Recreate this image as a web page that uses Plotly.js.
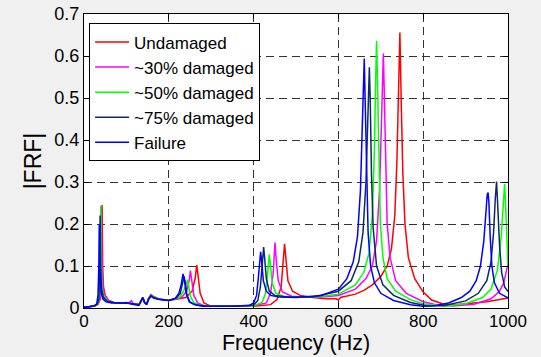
<!DOCTYPE html>
<html>
<head>
<meta charset="utf-8">
<script src="https://cdn.plot.ly/plotly-3.0.1.min.js"></script>
<style>html,body{margin:0;padding:0;background:#f0f0f0;}#chart{width:541px;height:357px;}</style>
</head>
<body>
<div id="chart"></div>
<script>
// Series names
const seriesNames = ["Undamaged", "~30% damaged", "~50% damaged", "~75% damaged", "Failure"];
const seriesColors = ["#ff0000", "#ff00ff", "#00ff00", "#0a2a6a", "#0000ff"];

// Undamaged (red)
const freqUndamaged = [0,15,25,33,38,41,42.6,44,46,50,58,70,90,100,105,120,130,136,139,143,148,153,158,163,175,200,240,255,262,266,269,274,283,300,350,400,440,455,465,470,473,476,481,492,510,540,570,595,600,605,640,660,680,700,715,725,733,738,742,745,748,752,757,765,780,800,820,845,870,900,950,1000];
const frfUndamaged  = [0.002,0.003,0.005,0.009,0.02,0.08,0.245,0.1,0.05,0.03,0.018,0.013,0.012,0.013,0.012,0.009,0.008,0.02,0.024,0.012,0.01,0.024,0.032,0.028,0.022,0.018,0.025,0.04,0.07,0.102,0.075,0.035,0.012,0.004,0.004,0.004,0.008,0.02,0.05,0.11,0.153,0.12,0.065,0.04,0.03,0.025,0.022,0.022,0.019,0.025,0.033,0.042,0.055,0.075,0.1,0.14,0.22,0.35,0.55,0.656,0.5,0.32,0.2,0.12,0.07,0.038,0.019,0.01,0.007,0.01,0.015,0.024];

// ~30% damaged (magenta)
const freq30 = [0,15,25,33,37,39.5,41,42.5,45,50,58,70,90,105,112,116,125,130,136,139,143,148,153,158,163,175,200,230,242,248,251,254,259,268,285,320,400,430,440,446,450.5,453,458,468,490,520,560,600,640,665,680,690,697,701,704,706,708,711,715,722,735,760,800,830,870,920,960,980,990,1000];
const frf30  = [0.002,0.003,0.005,0.009,0.02,0.09,0.24,0.1,0.045,0.028,0.018,0.013,0.012,0.012,0.017,0.011,0.009,0.008,0.02,0.024,0.012,0.01,0.024,0.031,0.027,0.022,0.018,0.025,0.04,0.065,0.089,0.065,0.03,0.012,0.005,0.004,0.005,0.012,0.035,0.08,0.156,0.12,0.065,0.038,0.028,0.026,0.026,0.03,0.045,0.07,0.1,0.16,0.28,0.42,0.56,0.606,0.52,0.34,0.2,0.12,0.065,0.035,0.015,0.008,0.005,0.009,0.022,0.04,0.06,0.105];

// ~50% damaged (green)
const freq50 = [0,15,25,32,36,38.5,39.5,41,43,48,56,70,90,100,110,125,130,136,139,143,148,153,158,163,175,200,225,235,241,244.6,247,252,260,280,320,400,420,428,433,437,440,444,452,470,500,550,600,640,660,672,680,685,688,690,692,695,699,705,715,735,770,800,850,900,940,960,975,984,989,992,995,998,1000];
const frf50  = [0.002,0.003,0.005,0.009,0.02,0.1,0.243,0.1,0.045,0.026,0.017,0.013,0.012,0.013,0.011,0.009,0.008,0.02,0.024,0.012,0.01,0.024,0.03,0.027,0.022,0.018,0.025,0.04,0.055,0.067,0.05,0.025,0.012,0.005,0.004,0.005,0.013,0.035,0.08,0.128,0.1,0.06,0.035,0.028,0.026,0.026,0.033,0.055,0.085,0.13,0.22,0.38,0.55,0.636,0.55,0.36,0.2,0.12,0.07,0.04,0.02,0.01,0.004,0.01,0.025,0.045,0.09,0.17,0.26,0.295,0.23,0.14,0.098];

// ~75% damaged (navy)
const freq75 = [0,15,25,31,35,37,38,39.5,41.5,46,55,70,90,100,110,125,130,136,139,143,148,153,158,163,175,200,218,227,232,236,239,243,250,265,290,350,400,410,416,420,423.7,426,430,437,450,480,540,600,630,648,658,665,669,671,673,675,678,682,690,705,730,770,810,850,900,930,950,960,966,970,973,976,980,985,992,1000];
const frf75  = [0.002,0.003,0.005,0.009,0.02,0.1,0.22,0.1,0.045,0.025,0.016,0.013,0.012,0.013,0.011,0.009,0.007,0.02,0.025,0.013,0.009,0.023,0.029,0.026,0.021,0.018,0.024,0.035,0.055,0.075,0.06,0.03,0.014,0.007,0.004,0.004,0.007,0.018,0.05,0.11,0.145,0.12,0.07,0.04,0.03,0.026,0.026,0.04,0.065,0.11,0.18,0.3,0.45,0.54,0.573,0.5,0.32,0.19,0.1,0.055,0.03,0.013,0.005,0.006,0.017,0.035,0.065,0.11,0.18,0.26,0.301,0.24,0.15,0.085,0.05,0.039];

// Failure (blue)
const freqFail = [0,15,25,30,33,35,36,37.5,40,44,52,65,90,100,110,120,128,135,138,142,147,152,158,165,180,200,215,224,229,233.6,237,241,248,260,280,350,390,400,407,411,414,416.6,419,423,430,440,460,500,560,600,620,635,645,652,656,659,661,663,666,670,676,685,700,730,770,800,830,860,890,910,925,935,943,948,951,953,955,958,962,968,980,1000];
const frfFail  = [0.002,0.003,0.006,0.01,0.03,0.1,0.198,0.09,0.04,0.022,0.015,0.012,0.012,0.013,0.01,0.008,0.006,0.016,0.025,0.015,0.008,0.02,0.028,0.023,0.02,0.018,0.023,0.035,0.055,0.081,0.065,0.035,0.015,0.008,0.004,0.004,0.006,0.012,0.03,0.07,0.11,0.134,0.11,0.065,0.04,0.03,0.026,0.025,0.03,0.045,0.07,0.11,0.17,0.28,0.42,0.56,0.594,0.5,0.32,0.18,0.1,0.06,0.035,0.018,0.008,0.004,0.006,0.012,0.025,0.04,0.065,0.1,0.16,0.23,0.27,0.275,0.25,0.17,0.1,0.06,0.035,0.024];

// Axis ticks
const xTicks = [0, 200, 400, 600, 800, 1000];
const yTicks = [0, 0.1, 0.2, 0.3, 0.4, 0.5, 0.6, 0.7];
const yTickLabels = ["0", "0.1", "0.2", "0.3", "0.4", "0.5", "0.6", "0.7"];

const xs = [freqUndamaged, freq30, freq50, freq75, freqFail];
const ys = [frfUndamaged, frf30, frf50, frf75, frfFail];

const traces = seriesNames.map((n, i) => ({
  x: xs[i], y: ys[i], name: n, type: 'scatter', mode: 'lines',
  line: {color: seriesColors[i], width: 1.5}
}));

const font = "Liberation Sans, Arial, sans-serif";
const layout = {
  width: 541, height: 357,
  paper_bgcolor: '#f0f0f0', plot_bgcolor: '#ffffff',
  margin: {l: 84, r: 33, t: 14, b: 49},
  font: {family: font, size: 18, color: '#000'},
  showlegend: true,
  legend: {x: 0.012, y: 0.968, xanchor: 'left', yanchor: 'top',
           bgcolor: '#ffffff', bordercolor: '#000', borderwidth: 1,
           font: {family: font, size: 17, color: '#000'}, tracegroupgap: 0,
           itemwidth: 34},
  xaxis: {range: [0, 1000], tickvals: xTicks, ticktext: xTicks.map(String),
          showline: true, linecolor: '#000', linewidth: 1, mirror: 'ticks',
          ticks: 'inside', ticklen: 5, tickcolor: '#000',
          showgrid: true, gridcolor: '#333', griddash: '8px,5px', gridwidth: 1,
          zeroline: false, tickfont: {size: 17}, ticklabelstandoff: -2,
          title: {text: 'Frequency (Hz)', font: {size: 21.5}, standoff: 1}},
  yaxis: {range: [0, 0.7], tickvals: yTicks, ticktext: yTickLabels,
          showline: true, linecolor: '#000', linewidth: 1, mirror: 'ticks',
          ticks: 'inside', ticklen: 5, tickcolor: '#000',
          showgrid: true, gridcolor: '#333', griddash: '8px,5px', gridwidth: 1,
          zeroline: false, tickfont: {size: 18},
          title: {text: '|FRF|', font: {size: 23}, standoff: 6}}
};

Plotly.newPlot('chart', traces, layout, {displayModeBar: false, staticPlot: true});
</script>
</body>
</html>
